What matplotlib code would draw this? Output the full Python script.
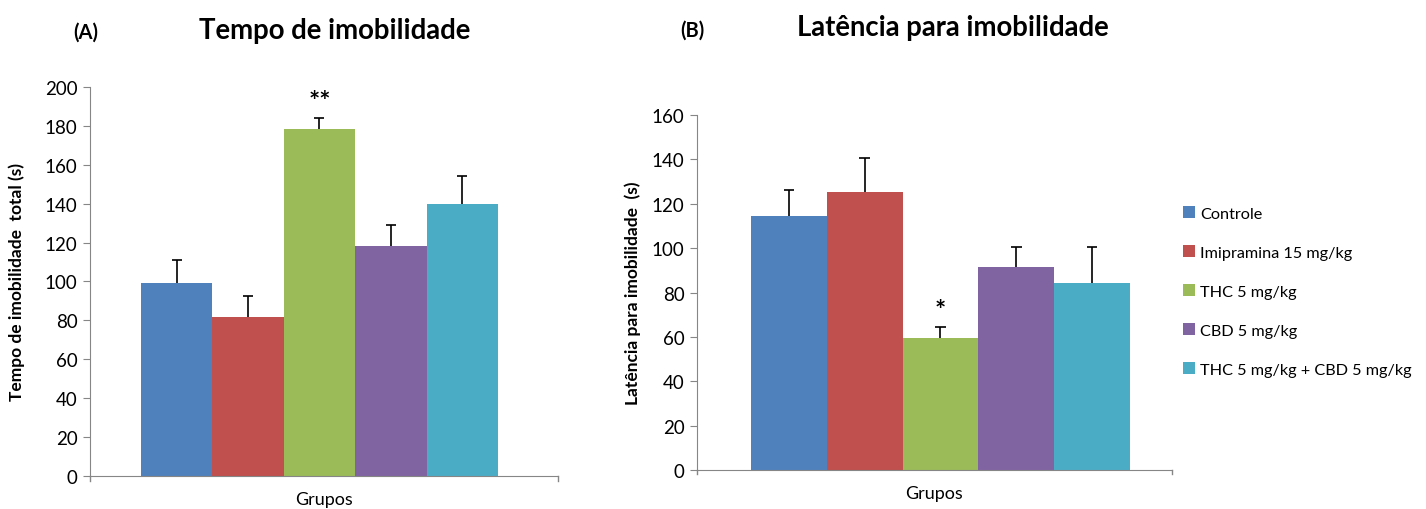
import numpy as np
import matplotlib
matplotlib.use('Agg')
import matplotlib.pyplot as plt

plt.rcParams['font.family'] = ['Lato', 'DejaVu Sans']

grupos = ['Controle', 'Imipramina 15 mg/kg', 'THC 5 mg/kg', 'CBD 5 mg/kg',
          'THC 5 mg/kg + CBD 5 mg/kg']
cores = ['#4f81bd', '#c0504d', '#9bbb59', '#8064a2', '#4bacc6']

# tempo de imobilidade total (s)
tempo = [99, 82, 178.5, 118.5, 140]
tempo_ep = [12, 10.5, 5.5, 10.5, 14]

# latencia para imobilidade (s)
latencia = [114.5, 125.5, 59.5, 91.5, 84.5]
latencia_ep = [11.5, 15, 5, 9, 16]

eixo_cor = '#868686'


def painel(ax, vals, ep, ymax, xlim, ylabel, pad):
    x = np.arange(len(vals))
    ax.bar(x, vals, width=1.0, color=cores, label=grupos, zorder=2)
    tops = np.array(vals) + np.array(ep)
    ax.vlines(x, vals, tops, color='black', lw=1.2, zorder=3)
    ax.hlines(tops, x - 0.07, x + 0.07, color='black', lw=1.2, zorder=3)
    ax.set_ylim(0, ymax)
    ax.set_xlim(*xlim)
    ax.set_yticks(np.arange(0, ymax + 1, 20))
    ax.set_xticks([])
    for s in ['top', 'right']:
        ax.spines[s].set_visible(False)
    for s in ['left', 'bottom']:
        ax.spines[s].set_color(eixo_cor)
    ax.tick_params(axis='y', colors=eixo_cor, labelcolor='black', labelsize=13.5,
                   length=5, direction='out', pad=4)
    ax.set_ylabel(ylabel, fontsize=12.5, fontweight='bold', labelpad=pad)
    ax.set_xlabel('Grupos', fontsize=13, labelpad=11)
    # small ticks at both ends of the x axis
    for xe in xlim:
        ax.plot([xe, xe], [0, -ymax * 0.012], color=eixo_cor, lw=1, clip_on=False)


fig = plt.figure(figsize=(14.26, 5.10), dpi=100)

axA = fig.add_axes([0.0631, 0.0647, 0.3282, 0.7628])
painel(axA, tempo, tempo_ep, 200, (-1.214, 5.34), 'Tempo de imobilidade  total (s)', 14)
axA.text(2, 193, '**', ha='center', va='center', fontsize=19, fontweight='bold')

axB = fig.add_axes([0.4888, 0.0765, 0.333, 0.696])
painel(axB, latencia, latencia_ep, 160, (-1.212, 5.054), 'Latência para imobilidade  (s)', 8)
axB.text(2, 72, '*', ha='center', va='center', fontsize=19, fontweight='bold')

fig.text(0.235, 0.94, 'Tempo de imobilidade', ha='center', va='center',
         fontsize=19.8, fontweight='bold')
fig.text(0.0603, 0.935, '(A)', ha='center', va='center', fontsize=14.5, fontweight='bold')
fig.text(0.668, 0.945, 'Latência para imobilidade', ha='center', va='center',
         fontsize=19.8, fontweight='bold')
fig.text(0.4853, 0.94, '(B)', ha='center', va='center', fontsize=14.5, fontweight='bold')

handles, labels = axB.get_legend_handles_labels()
fig.legend(handles, labels, loc='upper left', bbox_to_anchor=(0.8195, 0.622),
           frameon=False, fontsize=11.7, handlelength=0.75, handleheight=0.75,
           handletextpad=0.3, labelspacing=1.5)

fig.savefig('out.png', dpi=100)
